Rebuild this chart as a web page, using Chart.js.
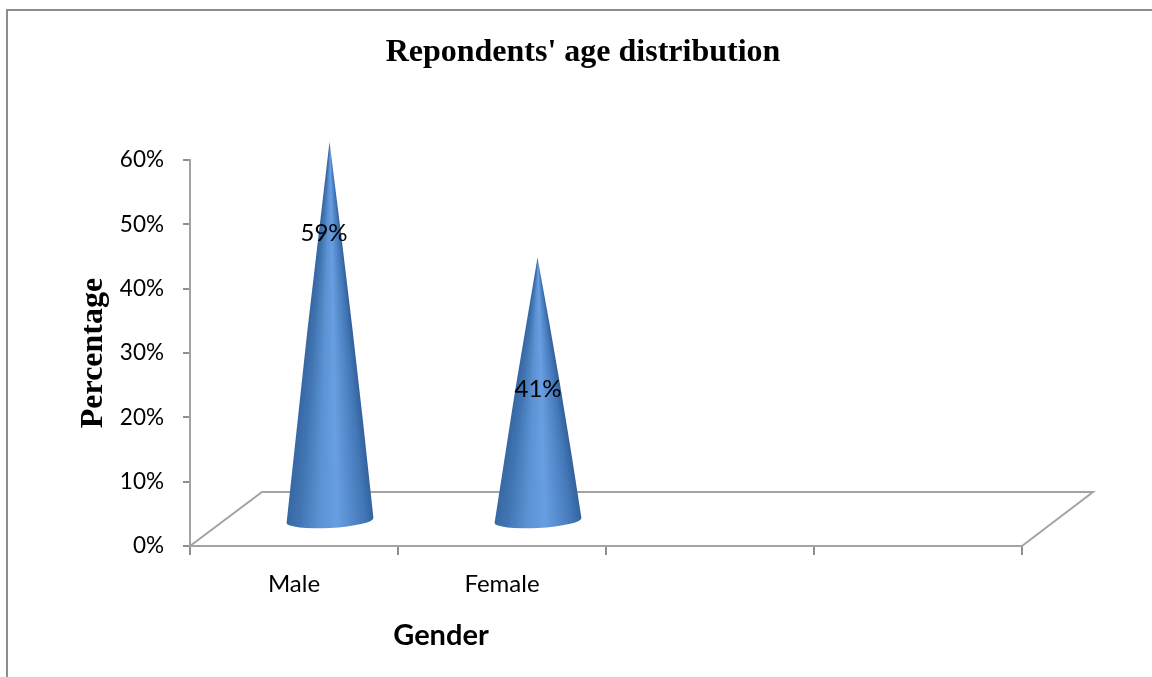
<!DOCTYPE html>
<html>
<head>
<meta charset="utf-8">
<style>
  html, body { margin: 0; padding: 0; background: #fff; }
  #wrap { position: relative; width: 1152px; height: 677px; overflow: hidden; }
  #frame { position: absolute; left: 6px; top: 9px; width: 1160px; height: 680px; border: 2px solid #8c8c8c; box-sizing: border-box; }
  canvas { position: absolute; left: 0; top: 0; }
</style>
<script src="https://cdn.jsdelivr.net/npm/chart.js@4"></script>
</head>
<body>
<div id="wrap">
  <div id="frame"></div>
  <canvas id="chart" width="1152" height="677"></canvas>
</div>
<script>
const categories = ['Male', 'Female', '', ''];
const shares = [0.59, 0.41, null, null];
const tickValues = [0, 0.1, 0.2, 0.3, 0.4, 0.5, 0.6];
const xAxisName = 'Gender';

// Pseudo-3D projection of the floor: how far the back edge sits from the front edge.
const DEPTH_X = 72;
const DEPTH_Y = 54;
const CONE_RX = 43.5;
const AXIS_GREY = '#a3a3a3';
const SANS = 'Lato, "Open Sans", sans-serif';
const SERIF = '"Liberation Serif", serif';

// Data label placement relative to each cone's tip.
const labelOffsets = [{ dx: -6, dy: 91 }, { dx: 0, dy: 132 }];

function drawFloor(chart) {
  const { ctx, chartArea: a } = chart;
  ctx.save();
  ctx.strokeStyle = AXIS_GREY;
  ctx.lineWidth = 2;
  ctx.beginPath();
  ctx.moveTo(a.left, a.bottom);
  ctx.lineTo(a.left + DEPTH_X, a.bottom - DEPTH_Y);
  ctx.lineTo(a.right + DEPTH_X - 1, a.bottom - DEPTH_Y);
  ctx.lineTo(a.right, a.bottom);
  ctx.stroke();
  ctx.restore();
}

// The shading fans out from the tip so the dark rims follow the sloping sides.
function drawCone(ctx, bar) {
  const cx = bar.x + DEPTH_X / 2;
  const baseY = bar.base - DEPTH_Y / 2 + 2.5;
  const tipY = bar.y - DEPTH_Y / 2 + 2.5;
  const tilt = -0.055;
  const ry = 7.5;
  const bulge = 2;
  const ex = CONE_RX * Math.cos(tilt);
  const ey = CONE_RX * Math.sin(tilt);
  const midY = (tipY + baseY) / 2;

  const half = Math.atan2(CONE_RX, baseY - tipY);
  const rightEdge = Math.PI / 2 - half;
  const span = 2 * half;
  const stop = (f) => (rightEdge + span * f) / (2 * Math.PI);
  const g = ctx.createConicGradient(0, cx, tipY);
  g.addColorStop(stop(-0.05), '#2d5a94');
  g.addColorStop(stop(0.1), '#4276b6');
  g.addColorStop(stop(0.42), '#689fe2');
  g.addColorStop(stop(0.62), '#5c92d3');
  g.addColorStop(stop(0.85), '#4175b2');
  g.addColorStop(stop(1.05), '#33649f');

  ctx.save();
  ctx.fillStyle = g;
  ctx.beginPath();
  ctx.moveTo(cx - 0.5, tipY);
  ctx.quadraticCurveTo(cx + ex / 2 + bulge, midY + ey / 2, cx + ex, baseY + ey);
  ctx.ellipse(cx, baseY, CONE_RX, ry, tilt, 0, Math.PI);
  ctx.quadraticCurveTo(cx - ex / 2 - bulge, midY - ey / 2, cx - 0.5, tipY);
  ctx.closePath();
  ctx.fill();
  ctx.restore();
}

const conePlugin = {
  id: 'cones',
  afterLayout(chart) {
    // Centre the heading over the page's plot block, floor depth included.
    chart.titleBlock.left += 72;
    chart.titleBlock.right += 72;
  },
  beforeDatasetsDraw(chart) { drawFloor(chart); },
  afterDatasetsDraw(chart) {
    const { ctx } = chart;
    const bars = chart.getDatasetMeta(0).data;
    bars.forEach((bar, i) => {
      if (shares[i] != null) drawCone(ctx, bar);
    });
    ctx.save();
    ctx.font = '24px ' + SANS;
    ctx.fillStyle = '#000';
    ctx.textAlign = 'center';
    ctx.textBaseline = 'middle';
    bars.forEach((bar, i) => {
      if (shares[i] == null) return;
      const off = labelOffsets[i];
      const tipY = bar.y - DEPTH_Y / 2 + 2.5;
      ctx.fillText(Math.round(shares[i] * 100) + '%', bar.x + DEPTH_X / 2 + off.dx, tipY + off.dy);
    });
    // The category axis name sits left of the plot centre.
    ctx.font = 'bold 29px ' + SANS;
    ctx.fillText(xAxisName, 441, 636);
    ctx.restore();
  }
};

new Chart(document.getElementById('chart'), {
  type: 'bar',
  data: {
    labels: categories,
    datasets: [{ data: shares, backgroundColor: 'rgba(0,0,0,0)', borderWidth: 0 }]
  },
  plugins: [conePlugin],
  options: {
    responsive: false,
    animation: false,
    layout: { padding: { left: 0, right: 130, top: 0, bottom: 0 } },
    plugins: {
      legend: { display: false },
      tooltip: { enabled: false },
      title: {
        display: true,
        text: "Repondents' age distribution",
        color: '#000',
        font: { family: SERIF, size: 32, weight: 'bold' },
        padding: { top: 34, bottom: 87.6 }
      }
    },
    scales: {
      x: {
        afterFit(s) { s.height = 131; },
        grid: { display: true, drawOnChartArea: false, drawTicks: true, tickLength: 9, color: '#8f8f8f', offset: true, lineWidth: 2 },
        border: { display: true, color: AXIS_GREY, width: 2 },
        ticks: { color: '#000', padding: 15, maxRotation: 0, autoSkip: false, font: { family: SANS, size: 24 } }
      },
      y: {
        min: 0,
        max: 0.6,
        afterFit(s) { s.width = 190; },
        afterBuildTicks(s) { s.ticks = tickValues.map(v => ({ value: v })); },
        grid: { display: true, drawOnChartArea: false, drawTicks: true, tickLength: 7, color: '#8f8f8f', lineWidth: 2 },
        border: { display: true, color: AXIS_GREY, width: 2 },
        ticks: { color: '#000', padding: 19, font: { family: SANS, size: 22.5 }, callback: v => Math.round(v * 100) + '%' },
        title: { display: true, text: 'Percentage', color: '#000', padding: { top: 75, bottom: 0 }, font: { family: SERIF, size: 32, weight: 'bold' } }
      }
    }
  }
});
</script>
</body>
</html>
